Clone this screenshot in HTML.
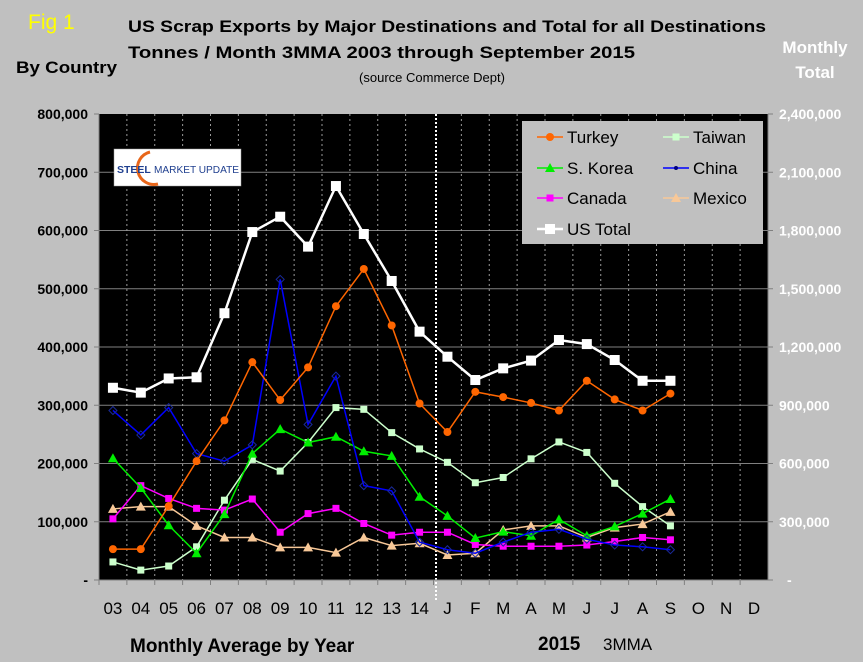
<!DOCTYPE html>
<html><head><meta charset="utf-8"><style>
html,body{margin:0;padding:0;background:#c0c0c0;}
svg{display:block;font-family:"Liberation Sans",sans-serif;}
.nb{font-family:"Liberation Sans Narrow","Liberation Sans",sans-serif;font-weight:bold;}
</style></head><body>
<svg id="chart" width="863" height="662" viewBox="0 0 863 662">
<rect x="0" y="0" width="863" height="662" fill="#c0c0c0"/>
<text x="28" y="29" fill="#ffff00" font-size="21">Fig 1</text>
<text class="nb" x="128" y="32" font-size="17" fill="#000" textLength="638" lengthAdjust="spacingAndGlyphs">US Scrap Exports by Major Destinations and Total for all Destinations</text>
<text class="nb" x="128" y="58" font-size="17" fill="#000" textLength="507" lengthAdjust="spacingAndGlyphs">Tonnes / Month 3MMA     2003 through September 2015</text>
<text x="432" y="82" font-size="13" fill="#000" text-anchor="middle">(source Commerce Dept)</text>
<text class="nb" x="16" y="73" font-size="17" fill="#000" textLength="101" lengthAdjust="spacingAndGlyphs">By Country</text>
<text class="nb" x="815" y="53" font-size="17" fill="#fff" text-anchor="middle">Monthly</text>
<text class="nb" x="815" y="78" font-size="17" fill="#fff" text-anchor="middle">Total</text>
<rect x="99" y="114" width="669" height="466" fill="#000"/>
<g id="grid"></g>
<g id="axes"></g>
<g id="series"></g>
<g>
<rect x="114" y="149" width="127" height="37" fill="#fff" stroke="#999" stroke-width="0.5"/>
<path d="M150 152 A16 16 0 1 0 158 184" fill="none" stroke="#e8661a" stroke-width="3"/>
<text x="117" y="173" font-size="10.5" font-weight="bold" fill="#1f3f8f">STEEL</text>
<text x="154" y="173" font-size="10.5" fill="#1f3f8f" textLength="85" lengthAdjust="spacingAndGlyphs">MARKET UPDATE</text>
</g>
<g id="legend">
<rect x="522" y="121" width="241" height="123" fill="#c0c0c0"/>
</g>
<text class="nb" x="130" y="652" font-size="19" fill="#000">Monthly Average by Year</text>
<text class="nb" x="538" y="650" font-size="19" fill="#000">2015</text>
<text x="603" y="650" font-size="17" fill="#000">3MMA</text>
</svg>
<script>
const categories=["03","04","05","06","07","08","09","10","11","12","13","14","J","F","M","A","M","J","J","A","S","O","N","D"];
const leftTicks=[0,100000,200000,300000,400000,500000,600000,700000,800000];
const rightTicks=[0,300000,600000,900000,1200000,1500000,1800000,2100000,2400000];
const turkey=[53000,53000,127000,204000,274000,374000,309000,365000,470000,534000,437000,303000,254000,323000,314000,304000,291000,342000,310000,291000,320000];
const taiwan=[31000,17000,24000,57000,137000,207000,187000,236000,296000,293000,253000,225000,202000,167000,176000,208000,237000,219000,166000,126000,93000];
const skorea=[209000,158000,94000,46000,113000,217000,259000,236000,246000,221000,213000,143000,110000,72000,83000,76000,104000,76000,92000,114000,139000];
const china=[291000,249000,296000,217000,204000,232000,516000,267000,350000,162000,153000,65000,52000,46000,65000,82000,87000,70000,60000,57000,52000];
const canada=[105000,162000,140000,123000,120000,139000,82000,114000,123000,97000,77000,82000,82000,61000,58000,58000,58000,60000,66000,73000,69000];
const mexico=[122000,126000,126000,93000,73000,73000,56000,56000,47000,73000,59000,63000,43000,46000,86000,93000,93000,73000,90000,96000,117000];
const usTotal=[990000,965000,1038000,1044000,1374000,1792000,1871000,1717000,2029000,1782000,1540000,1279000,1150000,1030000,1090000,1130000,1236000,1215000,1133000,1026000,1026000];

const NS="http://www.w3.org/2000/svg";
const X0=99,X1=768,Y0=580,Y1=114;
const bw=(X1-X0)/categories.length;
function xPos(i){return X0+bw*(i+0.5);}
function yLeft(v){return Y0-(v/800000)*(Y0-Y1);}
function yRight(v){return Y0-(v/2400000)*(Y0-Y1);}
function mk(tag,attrs,parent){const e=document.createElementNS(NS,tag);for(const k in attrs)e.setAttribute(k,attrs[k]);parent.appendChild(e);return e;}
function fmt(v){return v===0?"-":v.toLocaleString("en-US");}

const grid=document.getElementById("grid");
leftTicks.forEach((t,i)=>{
  if(t>0&&t<800000){const l=mk("line",{x1:X0,x2:X1,y1:yLeft(t),y2:yLeft(t),stroke:"#808080","stroke-width":1},grid);
  
  }
});
for(let i=1;i<categories.length;i++){
  if(i===12)continue;
  const x=X0+bw*i;
  const l=mk("line",{x1:x,x2:x,y1:Y1,y2:Y0,stroke:"#9a9a9a","stroke-width":1,"stroke-dasharray":"2,3"},grid);
  
  
}
const sep=mk("line",{x1:436,x2:436,y1:Y1,y2:Y0+20,stroke:"#fff","stroke-width":2,"stroke-dasharray":"2,2"},grid);



const axes=document.getElementById("axes");
mk("line",{x1:X0,x2:X0,y1:Y1,y2:Y0,stroke:"#808080"},axes);
mk("line",{x1:X1,x2:X1,y1:Y1,y2:Y0,stroke:"#808080"},axes);
mk("line",{x1:X0,x2:X1,y1:Y0,y2:Y0,stroke:"#808080"},axes);
leftTicks.forEach(t=>{
  const tx=mk("text",{x:88,y:yLeft(t)+5,"font-size":14,"font-weight":"bold","text-anchor":"end",fill:"#000"},axes);
  tx.textContent=fmt(t);
  
  
  mk("line",{x1:X0-5,x2:X0,y1:yLeft(t),y2:yLeft(t),stroke:"#808080"},axes);
});
rightTicks.forEach(t=>{
  const tx=mk("text",{x:t===0?787:779,y:yRight(t)+5,"font-size":14,"font-weight":"bold",fill:"#fff"},axes);
  tx.textContent=fmt(t);
  
  
  mk("line",{x1:X1,x2:X1+5,y1:yRight(t),y2:yRight(t),stroke:"#808080"},axes);
});
categories.forEach((c,i)=>{
  const tx=mk("text",{x:xPos(i),y:614,"font-size":17,"text-anchor":"middle",fill:"#000"},axes);
  tx.textContent=c;
  
  
  mk("line",{x1:X0+bw*i,x2:X0+bw*i,y1:Y0,y2:Y0+5,stroke:"#808080"},axes);
});

function marker(g,type,x,y,color){
  if(type==="circle")return mk("circle",{cx:x,cy:y,r:4,fill:color},g);
  if(type==="square")return mk("rect",{x:x-3.5,y:y-3.5,width:7,height:7,fill:color},g);
  if(type==="bigsquare")return mk("rect",{x:x-5,y:y-5,width:10,height:10,fill:color},g);
  if(type==="tri")return mk("polygon",{points:`${x},${y-5} ${x+5},${y+4} ${x-5},${y+4}`,fill:color},g);
  if(type==="diamond")return mk("polygon",{points:`${x},${y-4} ${x+4},${y} ${x},${y+4} ${x-4},${y}`,fill:"none",stroke:"#1a2a9a","stroke-width":1},g);
}
const seriesDefs=[
  {name:"taiwan",data:taiwan,color:"#ccffcc",m:"square",w:1.5,scale:yLeft},
  {name:"mexico",data:mexico,color:"#f8c898",m:"tri",w:1.5,scale:yLeft},
  {name:"canada",data:canada,color:"#ff00ff",m:"square",w:1.5,scale:yLeft},
  {name:"skorea",data:skorea,color:"#00ee00",m:"tri",w:1.5,scale:yLeft},
  {name:"china",data:china,color:"#0000ff",m:"diamond",w:1.5,scale:yLeft},
  {name:"turkey",data:turkey,color:"#ff6600",m:"circle",w:1.5,scale:yLeft},
  {name:"us-total",data:usTotal,color:"#ffffff",m:"bigsquare",w:2.5,scale:yRight}
];
const sg=document.getElementById("series");
seriesDefs.forEach(s=>{
  const g=mk("g",{},sg);
  
  
  const pts=s.data.map((v,i)=>xPos(i)+","+s.scale(v)).join(" ");
  const pl=mk("polyline",{points:pts,fill:"none",stroke:s.color,"stroke-width":s.w},g);
  
  
  s.data.forEach((v,i)=>{
    const m=marker(g,s.m,xPos(i),s.scale(v),s.color);
    
    
  });
});

const lg=document.getElementById("legend");
const legendItems=[
  ["Turkey","#ff6600","circle",538,137],["Taiwan","#ccffcc","square",664,137],
  ["S. Korea","#00ee00","tri",538,168],["China","#0000ff","dot",664,168],
  ["Canada","#ff00ff","square",538,198],["Mexico","#f8c898","tri",664,198],
  ["US Total","#ffffff","bigsquare",538,229]
];
legendItems.forEach(([label,color,m,x,y])=>{
  const g=mk("g",{},lg);
  
  
  mk("line",{x1:x-1,x2:x+25,y1:y,y2:y,stroke:color,"stroke-width":m==="bigsquare"?2.5:1.5},g);
  if(m==="dot")mk("circle",{cx:x+12,cy:y,r:2,fill:"#000080"},g);
  else marker(g,m,x+12,y,color);
  const t=mk("text",{x:x+29,y:y+6,"font-size":17,fill:"#000"},g);
  t.textContent=label;
});
</script>
</body></html>
